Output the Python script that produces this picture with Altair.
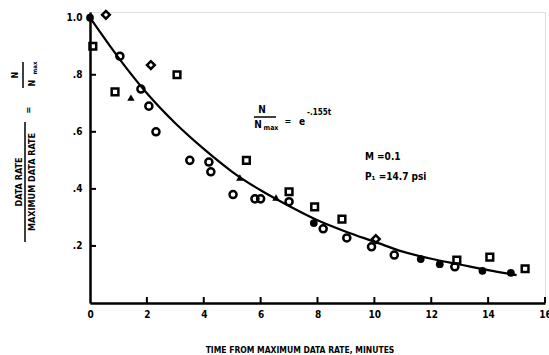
import altair as alt
import pandas as pd

# ---- data ----
sq_t = [0.1, 3.06, 0.88, 5.5, 7.0, 7.9, 8.86, 12.9, 14.06, 15.3]
sq_y = [0.90, 0.80, 0.74, 0.50, 0.39, 0.337, 0.294, 0.15, 0.161, 0.12]

ci_t = [1.05, 1.79, 2.07, 2.32, 3.51, 4.18, 4.25, 5.03, 5.8, 6.0, 7.0, 8.2, 9.03, 9.9, 10.7, 12.83]
ci_y = [0.865, 0.75, 0.69, 0.60, 0.50, 0.494, 0.46, 0.38, 0.365, 0.365, 0.355, 0.26, 0.228, 0.197, 0.168, 0.127]

di_t = [0.56, 2.14, 10.05]
di_y = [1.01, 0.834, 0.224]

tr_t = [1.44, 5.27, 6.54]
tr_y = [0.72, 0.44, 0.37]

dot_t = [0.0, 7.87, 11.63, 12.3, 13.8, 14.8]
dot_y = [1.0, 0.28, 0.154, 0.136, 0.113, 0.106]

curve_t = [0, 1, 2, 3, 4, 5, 6, 7, 8, 9, 10, 11, 12, 13, 14, 15]
curve_y = [1.0, 0.86, 0.735, 0.63, 0.54, 0.46, 0.395, 0.34, 0.29, 0.25, 0.215, 0.18, 0.155, 0.135, 0.115, 0.098]

x_ticks = [2, 4, 6, 8, 10, 12, 14, 16]
y_ticks = [0.2, 0.4, 0.6, 0.8]

FONT = "'DejaVu Sans Condensed', 'Liberation Sans', sans-serif"
W, H = 455, 291

xs = alt.Scale(domain=[0, 16], nice=False, zero=False)
ys = alt.Scale(domain=[0, 1.02], nice=False, zero=False)

label_expr = "datum.value == 1 ? '1.0' : replace(format(datum.value, '.1f'), '0.', '.')"

base_x = alt.X("t:Q", scale=xs, axis=alt.Axis(
    values=[0, 2, 4, 6, 8, 10, 12, 14, 16], ticks=False, grid=False,
    domainColor="black", domainWidth=2.5, labelFont=FONT, labelFontWeight="bold",
    labelFontSize=10, labelColor="black", labelPadding=6, title=None, labelFlush=False))
base_y = alt.Y("y:Q", scale=ys, axis=alt.Axis(
    values=[0.2, 0.4, 0.6, 0.8, 1.0], ticks=False, grid=False,
    domainColor="black", domainWidth=2.5, labelFont=FONT, labelFontWeight="bold",
    labelFontSize=10, labelColor="black", labelPadding=8, title=None,
    labelExpr=label_expr, labelFlush=False))

curve_df = pd.DataFrame({"t": curve_t, "y": curve_y})
curve = alt.Chart(curve_df).mark_line(color="black", strokeWidth=2.2, interpolate="monotone").encode(
    x=base_x, y=base_y)

def pts(t, y, shape, filled, size):
    df = pd.DataFrame({"t": t, "y": y})
    if filled:
        m = alt.Chart(df).mark_point(shape=shape, filled=True, color="black", size=size, opacity=1)
    else:
        m = alt.Chart(df).mark_point(shape=shape, filled=False, color="black", size=size,
                                     strokeWidth=2.5, opacity=1)
    return m.encode(x=alt.X("t:Q", scale=xs), y=alt.Y("y:Q", scale=ys))

squares = pts(sq_t, sq_y, "square", False, 45)
circles = pts(ci_t, ci_y, "circle", False, 50)
diamonds = pts(di_t, di_y, "diamond", False, 60)
triangles = pts(tr_t, tr_y, "triangle-up", True, 55)
dots = pts(dot_t, dot_y, "circle", True, 60)

xt = alt.Chart(pd.DataFrame({"t": x_ticks})).mark_rule(color="black", strokeWidth=2).encode(
    x=alt.X("t:Q", scale=xs), y=alt.value(H), y2=alt.value(H - 6))
yt = alt.Chart(pd.DataFrame({"y": y_ticks})).mark_rule(color="black", strokeWidth=2).encode(
    y=alt.Y("y:Q", scale=ys), x=alt.value(0), x2=alt.value(6))

def txt(s, x, y, size=9, angle=0, align="center", weight="bold"):
    return alt.Chart(pd.DataFrame({"s": [s]})).mark_text(
        font=FONT, fontSize=size, fontWeight=weight, angle=angle, align=align,
        baseline="middle", color="black").encode(text="s:N", x=alt.value(x), y=alt.value(y))

def line(x1, x2, y1, y2, w=1.5):
    return alt.Chart(pd.DataFrame({"a": [0]})).mark_rule(color="black", strokeWidth=w).encode(
        x=alt.value(x1), x2=alt.value(x2), y=alt.value(y1), y2=alt.value(y2))

annots = [
    # equation
    txt("N", 172, 98, 10),
    line(164, 186, 105, 105),
    txt("N", 168, 113, 10),
    txt("max", 181, 116, 7),
    txt("=", 198, 109, 9),
    txt("e", 212, 110, 10),
    txt("-.155t", 217, 101, 8, align="left"),
    txt("M =0.1", 275, 145, 10, align="left"),
    txt("P\u2081 =14.7 psi", 275, 165, 10, align="left"),
    # x title
    txt("TIME FROM MAXIMUM DATA RATE, MINUTES", 210, 338, 8.5),
    # y title
    txt("DATA RATE", -71, 170, 9, angle=270),
    line(-65, -65, 110, 230),
    txt("MAXIMUM DATA RATE", -58, 170, 9, angle=270),
    txt("=", -62, 98, 9, angle=270),
    txt("N", -75, 63, 9, angle=270),
    line(-67, -67, 50, 76),
    txt("N", -58, 71, 9, angle=270),
    txt("max", -55, 56, 6, angle=270),
]

chart = alt.layer(curve, squares, circles, diamonds, triangles, dots, xt, yt, *annots).properties(
    width=W, height=H,
    autosize=alt.AutoSizeParams(type="none"),
    padding={"left": 90, "top": 12, "right": 4, "bottom": 52},
).configure_view(stroke=None).configure(background="white")

chart.save("out.html", embed_options={"renderer": "svg", "actions": False})
